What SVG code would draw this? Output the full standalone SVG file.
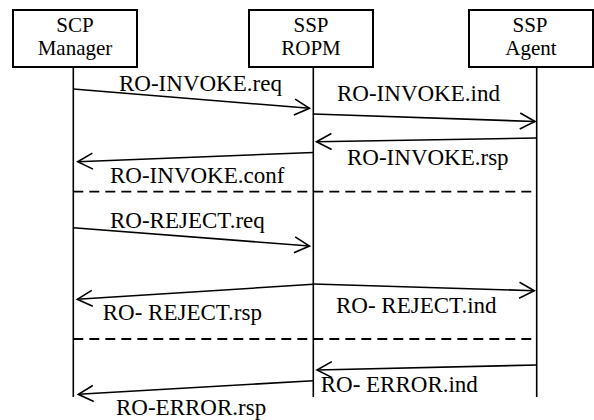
<svg xmlns="http://www.w3.org/2000/svg" width="594" height="420" viewBox="0 0 594 420">
  <style>
    .box { fill: #fff; stroke: #000; stroke-width: 2; }
    .life { stroke: #000; stroke-width: 1.6; fill: none; }
    .msg { stroke: #000; stroke-width: 1.6; fill: none; marker-end: url(#open); }
    .sep { stroke: #000; stroke-width: 1.8; stroke-dasharray: 10 6; fill: none; }
    .hdr { font-family: "Liberation Serif", "Times New Roman", serif; font-size: 21px; text-anchor: middle; fill: #000; }
    .lbl { font-family: "Liberation Serif", "Times New Roman", serif; font-size: 23px; fill: #000; }
  </style>
  <defs>
    <marker id="open" markerUnits="userSpaceOnUse" markerWidth="20" markerHeight="20" viewBox="-17 -10 20 20" refX="0" refY="0" orient="auto">
      <path d="M-15,-8 L0,0 L-15,8" fill="none" stroke="#000" stroke-width="1.6"/>
    </marker>
  </defs>

  <!-- participants -->
  <g id="scp-manager">
    <rect class="box" x="13" y="10" width="124" height="57"/>
    <text class="hdr" x="75" y="32">SCP</text>
    <text class="hdr" x="75" y="55">Manager</text>
    <line class="life" x1="73.3" y1="67" x2="73.3" y2="397"/>
  </g>
  <g id="ssp-ropm">
    <rect class="box" x="249" y="10" width="124" height="57"/>
    <text class="hdr" x="311" y="32">SSP</text>
    <text class="hdr" x="311" y="55">ROPM</text>
    <line class="life" x1="313.3" y1="67" x2="313.3" y2="397"/>
  </g>
  <g id="ssp-agent">
    <rect class="box" x="469" y="10" width="124" height="57"/>
    <text class="hdr" x="530" y="32">SSP</text>
    <text class="hdr" x="531" y="55">Agent</text>
    <line class="life" x1="536.7" y1="67" x2="536.7" y2="397"/>
  </g>

  <!-- messages and phase separators -->
  <g id="connectors">
    <line class="msg" x1="73.3" y1="89" x2="309.5" y2="108.3"/>
    <line class="msg" x1="313.3" y1="114" x2="535" y2="121.5"/>
    <line class="msg" x1="536.7" y1="138" x2="316.5" y2="141.7"/>
    <line class="msg" x1="313.3" y1="152.5" x2="77.7" y2="161.7"/>
    <line class="sep" x1="73.3" y1="191.7" x2="536.7" y2="191.7"/>
    <line class="msg" x1="73.3" y1="227.7" x2="309.5" y2="246"/>
    <line class="msg" x1="313.3" y1="284" x2="534.3" y2="290.7"/>
    <line class="msg" x1="313.3" y1="284.3" x2="77.3" y2="299.3"/>
    <line class="sep" x1="73.3" y1="339" x2="536.7" y2="339"/>
    <line class="msg" x1="536.7" y1="365" x2="317" y2="370"/>
    <line class="msg" x1="313.3" y1="380.7" x2="78.3" y2="394.3"/>
  </g>

  <!-- message labels -->
  <g id="labels">
    <text class="lbl" x="119" y="90.5">RO-INVOKE.req</text>
    <text class="lbl" x="337" y="101">RO-INVOKE.ind</text>
    <text class="lbl" x="347" y="165">RO-INVOKE.rsp</text>
    <text class="lbl" x="110" y="183">RO-INVOKE.conf</text>
    <text class="lbl" x="110" y="228">RO-REJECT.req</text>
    <text class="lbl" x="336" y="313.3">RO- REJECT.ind</text>
    <text class="lbl" x="102.7" y="320.3">RO- REJECT.rsp</text>
    <text class="lbl" x="320.7" y="392">RO- ERROR.ind</text>
    <text class="lbl" x="116" y="414.5">RO-ERROR.rsp</text>
  </g>
</svg>
